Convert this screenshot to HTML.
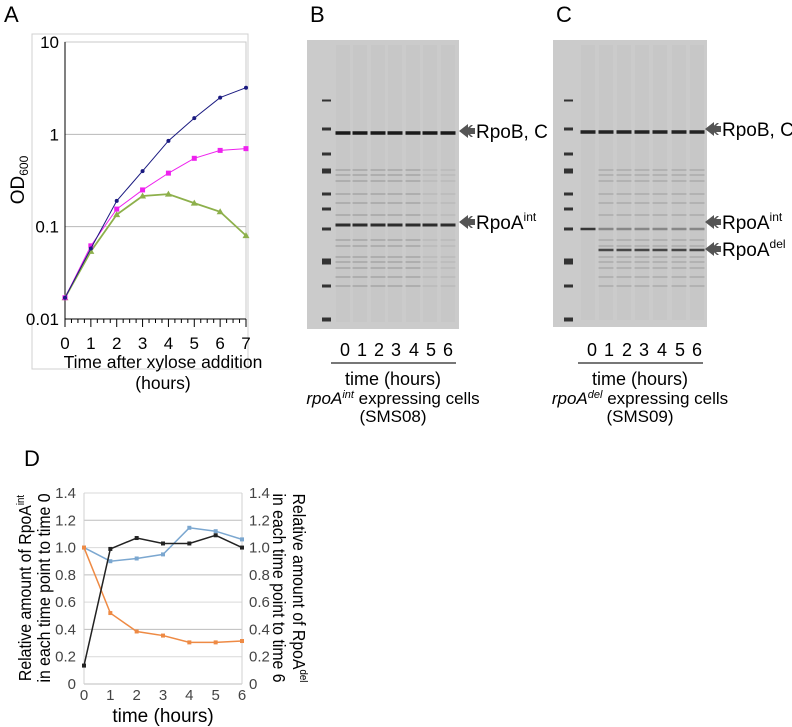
<!DOCTYPE html>
<html><head><meta charset="utf-8"><style>
body{margin:0;background:#fff;width:792px;height:727px;overflow:hidden}
svg{display:block;font-family:"Liberation Sans",Arial,sans-serif}
</style></head><body>
<svg id="fig" width="792" height="727" viewBox="0 0 792 727">
<text x="4" y="22" font-size="22">A</text>
<text x="310" y="22" font-size="22">B</text>
<text x="556" y="22" font-size="22">C</text>
<text x="24" y="466" font-size="22">D</text>
<rect x="32" y="34" width="216" height="335" fill="none" stroke="#d0d0d0"/>
<g id="chartA"></g>
<g id="gels"></g>
<g id="chartD"></g>
</svg>
<script>
const NS="http://www.w3.org/2000/svg";
function mk(p,t,a,txt){const e=document.createElementNS(NS,t);for(const k in a)e.setAttribute(k,a[k]);if(txt!==undefined)e.textContent=txt;p.appendChild(e);return e;}

// ---- Panel A data ----
const hoursA=[0,1,2,3,4,5,6,7];
const odBlue=[0.017,0.058,0.19,0.4,0.85,1.5,2.5,3.2];
const odMagenta=[0.017,0.062,0.155,0.25,0.38,0.55,0.67,0.7];
const odGreen=[0.017,0.054,0.135,0.215,0.225,0.18,0.145,0.08];
const yTicksA=[0.01,0.1,1,10];
const yTickLabelsA=["0.01","0.1","1","10"];

// ---- Panel D data ----
const hoursD=[0,1,2,3,4,5,6];
const rpoAintOrange=[1.0,0.52,0.385,0.355,0.305,0.305,0.315];
const rpoAdelBlack=[0.135,0.99,1.07,1.03,1.03,1.09,1.0];
const blueSeriesD=[1.0,0.90,0.92,0.95,1.145,1.12,1.06];
const yTicksD=[0,0.2,0.4,0.6,0.8,1.0,1.2,1.4];
const yTickLabelsD=["0","0.2","0.4","0.6","0.8","1.0","1.2","1.4"];

// ---- Panel A ----
(function(){
const g=document.getElementById('chartA');
const x0=65,x1=246,yTop=42,yBot=319;
const xs=h=>x0+(x1-x0)*h/7;
const ys=v=>yBot-(yBot-yTop)*(Math.log10(v)+2)/3;
mk(g,'rect',{x:x0,y:yTop,width:x1-x0,height:yBot-yTop,fill:'none',stroke:'#c8c8c8'});
yTicksA.forEach((t,i)=>{
  if(i>0&&i<3){const l=mk(g,'line',{x1:x0,x2:x1,y1:ys(t),y2:ys(t),stroke:'#b8b8b8'});}
  const tx=mk(g,'text',{x:59,y:ys(t)+6,'font-size':17,'text-anchor':'end'},yTickLabelsA[i]);
  
});
mk(g,'line',{x1:x0,x2:x0,y1:yTop,y2:yBot,stroke:'#000'});
mk(g,'line',{x1:x0,x2:x1,y1:yBot,y2:yBot,stroke:'#000'});
for(let k=0;k<=28;k++){const xx=x0+(x1-x0)*k/28;mk(g,'line',{x1:xx,x2:xx,y1:yBot,y2:yBot+(k%4==0?8:4),stroke:'#000'});}
hoursA.forEach(h=>{const t=mk(g,'text',{x:xs(h),y:349,'font-size':17,'text-anchor':'middle'},String(h));});
const xt=mk(g,'text',{x:163,y:368,'font-size':17.5,'text-anchor':'middle'},'Time after xylose addition');

mk(g,'text',{x:163,y:389,'font-size':17.5,'text-anchor':'middle'},'(hours)');
const yt=mk(g,'text',{transform:'translate(24,180) rotate(-90)','font-size':19,'text-anchor':'middle'});

yt.innerHTML='OD<tspan font-size="12" dy="4">600</tspan>';
const series=[[odGreen,'#8db04b','tri','series-green',1.8],[odMagenta,'#ee22ee','sq','series-magenta',1],[odBlue,'#1a1a80','dot','series-blue',1]];
series.forEach(([d,c,m,n,w])=>{
  const s=mk(g,'g',{});
  mk(s,'polyline',{points:d.map((v,i)=>xs(hoursA[i])+','+ys(v)).join(' '),fill:'none',stroke:c,'stroke-width':w});
  d.forEach((v,i)=>{const cx=xs(hoursA[i]),cy=ys(v);let p;
    if(m=='dot')p=mk(s,'circle',{cx,cy,r:2,fill:c});
    else if(m=='sq')p=mk(s,'rect',{x:cx-2.5,y:cy-2.5,width:5,height:5,fill:c});
    else p=mk(s,'polygon',{points:`${cx},${cy-3.5} ${cx-3.5},${cy+2.5} ${cx+3.5},${cy+2.5}`,fill:c});
    });
});
})();

// ---- Gels ----
(function(){
const g=document.getElementById('gels');
function gel(x,w,h,ladderX,lanes,bands,name){
  const gg=mk(g,'g',{});
  mk(gg,'rect',{x,y:40,width:w,height:h,fill:'#cbcbcb'});
  [101,129,154,170,194,209,229,260,286,319].forEach((y,i)=>mk(gg,'rect',{x:ladderX-4,y:y-1.5,width:9,height:[1,2,2,4,2,2,2,5,2,3][i]+1,fill:'#333'}));
  lanes.forEach((lx,li)=>{
    mk(gg,'rect',{x:lx-7,y:45,width:14,height:h-12,fill:'#bdbdbd',opacity:0.25});
    bands.forEach(([y,th,op,fn])=>{const o=fn?fn(li):op;if(o>0)mk(gg,'rect',{x:lx-7.5,y:y-th/2,width:15,height:th,fill:'#111',opacity:o});});
  });
}
const faint=[170,175,181,194,203,215,240,246,257,262,268,277,286];
const bB=[[133,3.5,0.95],[225,3,0.85]].concat(faint.map(y=>[y,1.5,0,i=>i<5?0.18:0.07]));
gel(307,152,289,326,[343,360,378,395,413,430,448],bB,'gel-b');
const bC=[[132,3.5,0.9],[229,2.5,0,i=>i==0?0.8:0.35],[250,2.5,0,i=>i==0?0:0.7]].concat(faint.map(y=>[y,1.5,0,i=>i==0?0:0.15]));
gel(553,154,287,568,[588,606,624,642,660,679,697],bC,'gel-c');
function arrow(x,y,label,sup,name){
  const a=mk(g,'g',{});
  mk(a,'polygon',{points:`${x},${y} ${x+9},${y-7} ${x+9},${y-3} ${x+16},${y-3} ${x+16},${y+3} ${x+9},${y+3} ${x+9},${y+7}`,fill:'#555'});
  mk(a,'polygon',{points:`${x+5},${y} ${x+12},${y-6} ${x+14},${y-6} ${x+8},${y} ${x+14},${y+6} ${x+12},${y+6}`,fill:'#555'});
  const t=mk(a,'text',{x:x+17,y:y+7,'font-size':19});
  t.innerHTML=label+(sup?'<tspan font-size="12" dy="-8">'+sup+'</tspan>':'');
}
arrow(459,131,'RpoB, C','','label-rpob-b');
arrow(459,222,'RpoA','int','label-rpoa-int-b');
arrow(705,129,'RpoB, C','','label-rpob-c');
arrow(705,222,'RpoA','int','label-rpoa-int-c');
arrow(705,249,'RpoA','del','label-rpoa-del-c');
const laneLabels=["0","1","2","3","4","5","6"];
function caption(x0,lx,cx,it,code,name){
  const c=mk(g,'g',{});
  laneLabels.forEach((l,i)=>mk(c,'text',{x:lx[i],y:356,'font-size':18,'text-anchor':'middle'},l));
  mk(c,'line',{x1:x0,x2:x0+125,y1:363,y2:363,stroke:'#777','stroke-width':2});
  mk(c,'text',{x:cx,y:385,'font-size':18,'text-anchor':'middle'},'time (hours)');
  const t=mk(c,'text',{x:cx,y:404,'font-size':17,'text-anchor':'middle'});
  t.innerHTML='<tspan font-style="italic">rpoA</tspan><tspan font-style="italic" font-size="11" dy="-6">'+it+'</tspan><tspan dy="6"> expressing cells</tspan>';
  mk(c,'text',{x:cx,y:422,'font-size':17,'text-anchor':'middle'},code);
}
caption(331,[345,362,379,396,414,431,448],393,'int','(SMS08)','caption-b');
caption(578,[592,609,627,644,662,680,697],640,'del','(SMS09)','caption-c');
})();

// ---- Panel D ----
(function(){
const g=document.getElementById('chartD');
const x0=84,x1=242,yTop=493,yBot=684;
const xs=h=>x0+(x1-x0)*h/6;
const ys=v=>yBot-(yBot-yTop)*v/1.4;
yTicksD.forEach((t,i)=>{
  const l=mk(g,'line',{x1:x0,x2:x1,y1:ys(t),y2:ys(t),stroke:i%2==0?'#bdbdbd':'#d9d9d9'});
  
  const a=mk(g,'text',{x:76,y:ys(t)+5,'font-size':15,'text-anchor':'end',fill:'#444'},yTickLabelsD[i]);
  
  const b=mk(g,'text',{x:249,y:ys(t)+5,'font-size':15,fill:'#444'},yTickLabelsD[i]);
  
});
mk(g,'line',{x1:x0,x2:x0,y1:yTop,y2:yBot,stroke:'#d0d0d0'});
mk(g,'line',{x1:x1,x2:x1,y1:yTop,y2:yBot,stroke:'#d0d0d0'});
hoursD.forEach(h=>{const t=mk(g,'text',{x:xs(h),y:700,'font-size':15,'text-anchor':'middle',fill:'#444'},String(h));});
const xt=mk(g,'text',{x:163,y:722,'font-size':19,'text-anchor':'middle'},'time (hours)');

const yl=mk(g,'text',{transform:'translate(31,588) rotate(-90) scale(0.88,1)','font-size':18,'text-anchor':'middle'});

yl.innerHTML='<tspan x="0" dy="0">Relative amount of RpoA<tspan font-size="11" dy="-7">int</tspan></tspan><tspan x="0" dy="26">in each time point to time 0</tspan>';
const yr=mk(g,'text',{transform:'translate(293,588) rotate(90) scale(0.88,1)','font-size':18,'text-anchor':'middle'});

yr.innerHTML='<tspan x="0" dy="0">Relative amount of RpoA<tspan font-size="11" dy="-7">del</tspan></tspan><tspan x="0" dy="27">in each time point to time 6</tspan>';
[[blueSeriesD,'#7ba7d0','series-blue'],[rpoAintOrange,'#ee8a44','series-orange'],[rpoAdelBlack,'#222','series-black']].forEach(([d,c,n])=>{
  const s=mk(g,'g',{});
  mk(s,'polyline',{points:d.map((v,i)=>xs(hoursD[i])+','+ys(v)).join(' '),fill:'none',stroke:c,'stroke-width':1.5});
  d.forEach((v,i)=>{const p=mk(s,'rect',{x:xs(hoursD[i])-2,y:ys(v)-2,width:4,height:4,fill:c});});
});
})();
</script>
</body></html>
